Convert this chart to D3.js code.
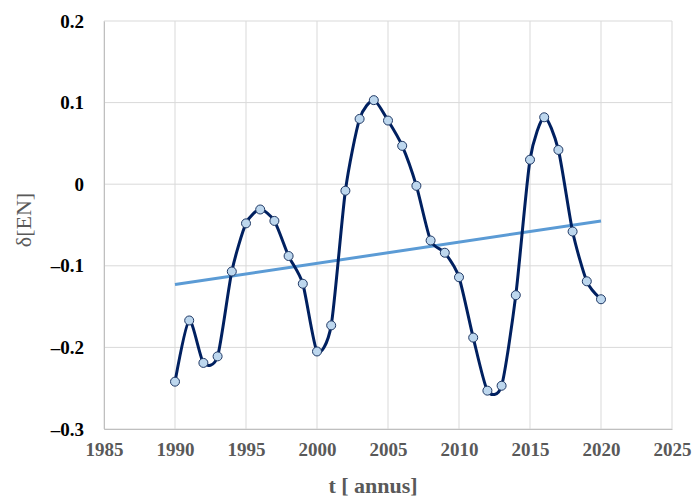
<!DOCTYPE html>
<html>
<head>
<meta charset="utf-8">
<script src="https://cdn.jsdelivr.net/npm/d3@7"></script>
<style>
  body { margin: 0; background: #fff; }
  svg text { font-family: "Liberation Serif", "Times New Roman", "DejaVu Serif", serif; font-weight: bold; }
</style>
</head>
<body>
<div id="graphic"></div>
<script>
// years and values
var years = [1990, 1991, 1992, 1993, 1994, 1995, 1996, 1997, 1998, 1999, 2000,
             2001, 2002, 2003, 2004, 2005, 2006, 2007, 2008, 2009, 2010,
             2011, 2012, 2013, 2014, 2015, 2016, 2017, 2018, 2019, 2020];
var deltaEN = [-0.242, -0.167, -0.219, -0.211, -0.107, -0.048, -0.031, -0.045, -0.088, -0.122, -0.205,
               -0.173, -0.008, 0.080, 0.103, 0.078, 0.047, -0.002, -0.069, -0.084, -0.114,
               -0.188, -0.253, -0.247, -0.136, 0.030, 0.082, 0.042, -0.058, -0.119, -0.141];
var trendYears = [1990, 2020];
var trendValues = [-0.123, -0.045];
var xTicks = [1985, 1990, 1995, 2000, 2005, 2010, 2015, 2020, 2025];
var yTicks = [0.2, 0.1, 0, -0.1, -0.2, -0.3];

var w = 696, h = 500;
var margin = {top: 21, right: 24, bottom: 71, left: 104},
    width = w - margin.left - margin.right,
    height = h - margin.top - margin.bottom;

var x = d3.scaleLinear().domain([1985, 2025]).range([0, width]);
var y = d3.scaleLinear().domain([-0.3, 0.2]).range([height, 0]);

var svg = d3.select('#graphic').append('svg')
    .attr('width', w)
    .attr('height', h)
  .append('g')
    .attr('transform', 'translate(' + margin.left + ',' + margin.top + ')');

// gridlines
svg.append('g').selectAll('line.gx')
    .data(xTicks)
  .enter().append('line')
    .attr('x1', function(d) { return x(d); })
    .attr('x2', function(d) { return x(d); })
    .attr('y1', 0).attr('y2', height)
    .attr('stroke', '#d9d9d9').attr('stroke-width', 1);

svg.append('g').selectAll('line.gy')
    .data(yTicks)
  .enter().append('line')
    .attr('x1', 0).attr('x2', width)
    .attr('y1', function(d) { return y(d); })
    .attr('y2', function(d) { return y(d); })
    .attr('stroke', '#d9d9d9').attr('stroke-width', 1);

// axes
var xAxis = svg.append('g')
    .attr('transform', 'translate(0,' + height + ')')
    .call(d3.axisBottom(x).tickValues(xTicks).tickFormat(d3.format('d')).tickSize(0).tickPadding(14));
xAxis.select('.domain').attr('stroke', '#bfbfbf');
xAxis.selectAll('text').attr('fill', '#595959').style('font-size', '19px');

var yAxis = svg.append('g')
    .call(d3.axisLeft(y).tickValues(yTicks).tickSize(0).tickPadding(20)
      .tickFormat(function(d) { return d === 0 ? '0' : (d < 0 ? '\u2013' : '') + d3.format('.1f')(Math.abs(d)); }));
yAxis.select('.domain').attr('stroke', '#bfbfbf');
yAxis.selectAll('text').attr('fill', '#000').style('font-size', '19px');

// axis titles
svg.append('text')
    .attr('transform', 'rotate(-90)')
    .attr('x', -199)
    .attr('y', -73)
    .style('text-anchor', 'middle')
    .style('font-size', '22px')
    .style('font-weight', 'normal')
    .attr('fill', '#595959')
    .text('\u03b4[EN]');

svg.append('text')
    .attr('x', 373 - margin.left)
    .attr('y', 493 - margin.top)
    .style('text-anchor', 'middle')
    .style('font-size', '22px')
    .attr('fill', '#595959')
    .text('t [ annus]');

// trend line
var trend = trendYears.map(function(d, i) { return {t: d, v: trendValues[i]}; });
svg.append('path')
    .datum(trend)
    .attr('fill', 'none')
    .attr('stroke', '#5b9bd5')
    .attr('stroke-width', 3)
    .attr('d', d3.line().x(function(d) { return x(d.t); }).y(function(d) { return y(d.v); }));

// data line, smoothed
var data = years.map(function(d, i) { return {t: d, v: deltaEN[i]}; });
svg.append('path')
    .datum(data)
    .attr('fill', 'none')
    .attr('stroke', '#002060')
    .attr('stroke-width', 3)
    .attr('d', d3.line().curve(d3.curveCardinal.tension(0.3))
      .x(function(d) { return x(d.t); }).y(function(d) { return y(d.v); }));

svg.append('g').selectAll('circle')
    .data(data)
  .enter().append('circle')
    .attr('cx', function(d) { return x(d.t); })
    .attr('cy', function(d) { return y(d.v); })
    .attr('r', 4.5)
    .attr('fill', '#bdd7ee')
    .attr('stroke', '#1f3864')
    .attr('stroke-width', 1);
</script>
</body>
</html>
